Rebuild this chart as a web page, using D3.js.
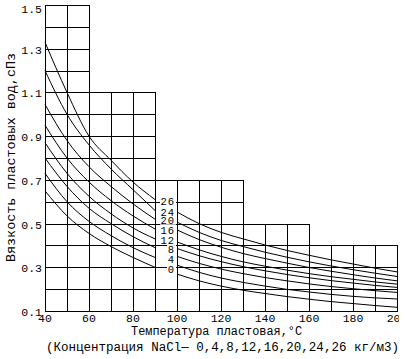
<!DOCTYPE html>
<html><head><meta charset="utf-8">
<script src="https://cdn.jsdelivr.net/npm/d3@7"></script>
<style>html,body{margin:0;padding:0;background:#fff;}svg{display:block;}</style>
</head><body>
<svg id="c" width="419" height="359"></svg>
<script>
// ---- data ----
const seriesNames = ["26","24","20","16","12","8","4","0"];
const leftTemps = [40,50,60,70,80,90];
const rightTemps = [100,110,120,130,140,150,160,170,180,190,200];
const leftValues = [
  [1.33,1.10,0.90,0.79,0.69,0.61],
  [1.20,1.00,0.86,0.75,0.655,0.56],
  [1.045,0.88,0.76,0.67,0.59,0.52],
  [0.95,0.80,0.69,0.605,0.535,0.475],
  [0.87,0.73,0.625,0.545,0.48,0.43],
  [0.80,0.67,0.57,0.50,0.44,0.39],
  [0.73,0.60,0.51,0.445,0.39,0.345],
  [0.65,0.535,0.455,0.395,0.345,0.30]
];
const rightValues = [
  [0.553,0.50,0.46,0.43,0.402,0.377,0.355,0.334,0.315,0.296,0.279],
  [0.507,0.46,0.423,0.395,0.369,0.346,0.325,0.306,0.289,0.273,0.258],
  [0.471,0.427,0.392,0.363,0.34,0.319,0.299,0.282,0.266,0.251,0.238],
  [0.416,0.38,0.35,0.325,0.305,0.287,0.271,0.257,0.245,0.233,0.223],
  [0.386,0.353,0.326,0.303,0.284,0.267,0.252,0.239,0.228,0.217,0.208],
  [0.350,0.318,0.292,0.271,0.253,0.238,0.224,0.212,0.202,0.193,0.185],
  [0.310,0.277,0.251,0.231,0.214,0.199,0.187,0.176,0.167,0.160,0.155],
  [0.269,0.238,0.214,0.195,0.180,0.166,0.154,0.143,0.134,0.125,0.117]
];
const xTickLabels = [40,60,80,100,120,140,160,180,200];
const yTickLabels = [0.1,0.3,0.5,0.7,0.9,1.1,1.3,1.5];
const gridStepEnds = [60,90,130,160,200];
const gridStepTops = [1.5,1.1,0.7,0.5,0.4];
const yTitle = "Вязкость пластовых вод,сПз";
const xTitle = "Температура пластовая,°C";
const noteText = "(Концентрация  NaCl\u2014 0,4,8,12,16,20,24,26 кг/м3)";

// ---- drawing ----
const svg = d3.select("#c");
const FONT = "'Liberation Mono', 'DejaVu Sans Mono', monospace";
const x = d3.scaleLinear().domain([40,200]).range([45,397]);
const y = d3.scaleLinear().domain([0.1,1.5]).range([311,5]);
const rx = t => Math.round(x(t)) + 0.5;
const ry = v => Math.round(y(v)) + 0.5;

const defs = svg.append("defs");
defs.append("clipPath").attr("id","clipR").append("rect").attr("x",0).attr("y",0).attr("width",399).attr("height",359);

// staircase grid
function topAt(t){
  let top = 0, start = 40;
  gridStepEnds.forEach((e,i)=>{ if (t>=start-1e-9 && t<=e+1e-9) top = Math.max(top, gridStepTops[i]); start = e; });
  return top;
}
function endAt(v){
  let end = 40;
  gridStepEnds.forEach((e,i)=>{ if (gridStepTops[i] >= v-1e-9) end = Math.max(end, e); });
  return end;
}
const grid = svg.append("g").attr("stroke","#000").attr("stroke-width",1.5).attr("stroke-linecap","square").attr("shape-rendering","crispEdges");
d3.range(40,201,10).forEach(t=>{
  grid.append("line").attr("x1",rx(t)).attr("x2",rx(t)).attr("y1",ry(0.1)).attr("y2",ry(topAt(t)));
});
d3.range(1,16).map(k=>k/10).forEach(v=>{
  grid.append("line").attr("x1",rx(40)).attr("x2",rx(endAt(v))).attr("y1",ry(v)).attr("y2",ry(v));
});

// curves
const line = d3.line().x(d=>x(d[0])).y(d=>y(d[1])).curve(d3.curveMonotoneX);
const cg = svg.append("g").attr("fill","none").attr("stroke","#000").attr("stroke-width",1);
seriesNames.forEach((n,i)=>{
  cg.append("path").attr("d", line(leftTemps.map((t,j)=>[t,leftValues[i][j]])));
  cg.append("path").attr("d", line(rightTemps.map((t,j)=>[t,rightValues[i][j]])));
});

// curve labels
const lg = svg.append("g").attr("font-family",FONT).attr("font-size",10.5);
seriesNames.forEach((n,i)=>{
  const cy = y(leftValues[i][leftValues[i].length-1]) + 1.5;
  const w = n.length*7;
  lg.append("rect").attr("x",175-w-1).attr("y",cy-4).attr("width",w+2).attr("height",8).attr("fill","#fff");
  lg.append("text").attr("x",175).attr("y",cy).attr("dy","0.36em").attr("text-anchor","end")
    .attr("letter-spacing",0.9).text(n);
});

// y tick labels
const yt = svg.append("g").attr("font-family",FONT).attr("font-size",11.5).attr("text-anchor","end");
yTickLabels.forEach(v=>{
  const py = Math.max(y(v)+1, 9);
  yt.append("text").attr("x",42).attr("y",py).attr("dy","0.35em").text(v.toFixed(1));
});
// x tick labels
const xt = svg.append("g").attr("font-family",FONT).attr("font-size",11.5).attr("text-anchor","middle").attr("clip-path","url(#clipR)");
xTickLabels.forEach(t=>{
  xt.append("text").attr("x",x(t)).attr("y",322).text(t);
});
// titles
svg.append("text").attr("font-family",FONT).attr("font-size",12)
  .attr("x",131).attr("y",335).attr("textLength",171).attr("lengthAdjust","spacingAndGlyphs").text(xTitle);
svg.append("text").attr("font-family",FONT).attr("font-size",12)
  .attr("x",46).attr("y",351).attr("textLength",353).attr("lengthAdjust","spacingAndGlyphs").text(noteText);
svg.append("text").attr("font-family",FONT).attr("font-size",12)
  .attr("transform","translate(15,262) rotate(-90)").attr("textLength",209).attr("lengthAdjust","spacingAndGlyphs").text(yTitle);
</script>
</body></html>
